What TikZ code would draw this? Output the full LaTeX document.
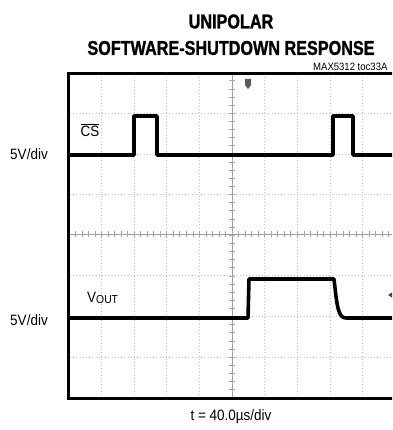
\documentclass[tikz,border=0pt]{standalone}
\usepackage{fontspec}
\setmainfont{Liberation Sans}
\newfontfamily\titlefont[FakeStretch=0.81,FakeBold=1.2]{Liberation Sans}
\newfontfamily\labfont[FakeStretch=0.9]{Liberation Sans}
\begin{document}
\begin{tikzpicture}[x=1pt,y=-1pt,
  gridline/.style={gray!50,line width=0.8pt,dash pattern=on 1pt off 2.2pt},
  axisline/.style={gray!75,line width=0.9pt},
  trace/.style={black,line width=3.6pt,line join=round},
  lbl/.style={inner sep=0pt,font=\labfont\fontsize{15}{16}\selectfont},
  ttl/.style={inner sep=0pt,font=\titlefont\bfseries\fontsize{20}{22}\selectfont}]
\useasboundingbox (0,0) rectangle (392,430);
\clip (0,0) rectangle (392,430);
% title
\node[ttl] (t1) at (231,21.5) {UNIPOLAR};
\node[ttl] (t2) at (231,48) {SOFTWARE-SHUTDOWN RESPONSE};
\node[inner sep=0pt,anchor=west,font=\labfont\fontsize{10.6}{11}\selectfont] (toc) at (313,66.5) {MAX5312 toc33A};
% grid
\foreach \x in {101.5,134,166.5,199,264.5,297,330,362}
  \draw[gridline] (\x,74) -- (\x,397);
\foreach \y in {113,154,194,275,316,357}
  \draw[gridline] (70,\y) -- (392,\y);
\draw[axisline] (232,74) -- (232,397);
\draw[axisline] (70,234) -- (392,234);
\foreach \i in {0,...,49}
  \draw[gray!70,line width=0.7pt] ({68.8+6.53*\i},231) -- ({68.8+6.53*\i},237);
\foreach \i in {0,...,40}
  \draw[gray!70,line width=0.7pt] (229,{72.6+8.13*\i}) -- (235,{72.6+8.13*\i});
% frame
\draw[black,line width=3pt] (68,73.5) rectangle (400,398);
% trigger marker
\fill[gray!70!black] (245,79) -- (251,79) -- (251,85) -- (248,89) -- (245,85) -- cycle;
% ground marker for VOUT
\fill[gray!60!black] (388,295) -- (394,291) -- (394,299) -- cycle;
% CS trace
\draw[trace] (70,155) -- (134,155) -- (134,116) -- (157,116) -- (157,155)
  -- (333,155) -- (333,116) -- (353,116) -- (353,155) -- (394,155);
% VOUT trace
\draw[trace] (70,318) -- (248,318) -- (249,279) -- (334,279)
  .. controls (337,306) and (338,318) .. (346,318) -- (394,318);
% labels
\node[lbl] (cs) at (90,130) {$\overline{\mbox{CS}}$};
\node[lbl] (v1) at (29,154) {5V/div};
\node[lbl,anchor=west] (vout) at (87,298) {V\raisebox{-1.5pt}{\fontsize{11.5}{12}\selectfont OUT}};
\node[lbl] (v2) at (29,320) {5V/div};
\node[lbl] (tb) at (231,417) {t = 40.0µs/div};
\end{tikzpicture}
\end{document}
